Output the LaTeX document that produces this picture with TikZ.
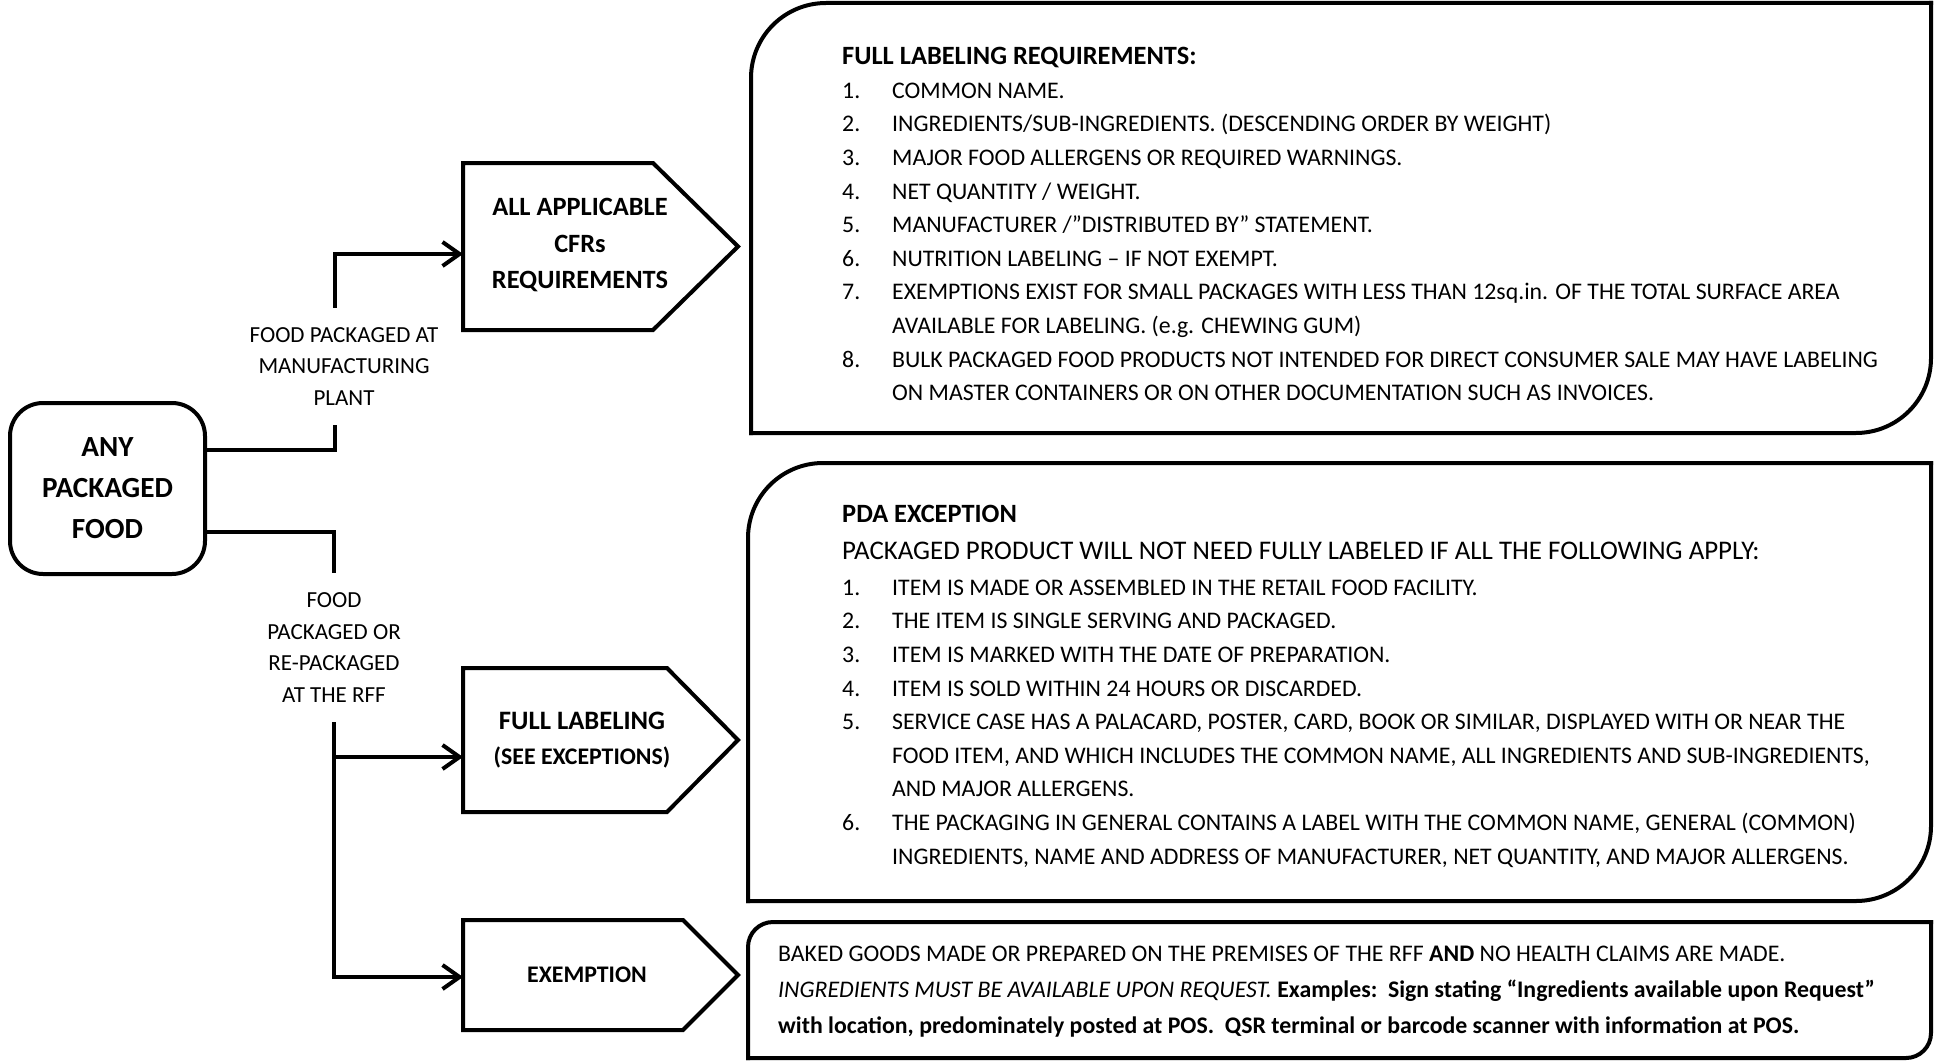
\documentclass[tikz,border=0pt]{standalone}
\usepackage{fontspec}
\setmainfont{Carlito}
\usetikzlibrary{arrows.meta,calc,positioning}

\tikzset{
    conn/.style = {line width=4pt},
    flow/.style = {conn, -{Straight Barb[length=17pt,width=24pt]}},
    outline/.style = {line width=4pt, line cap=rect},
    frame/.style = {draw=none, inner sep=0pt, outer sep=0pt},
    boxtext/.style = {font=\fontsize{26.4}{36.5}\selectfont\bfseries, align=center},
    sidelabel/.style = {font=\fontsize{23}{31.5}\selectfont, align=center, inner sep=0pt},
    listtext/.style = {font=\fontsize{23.8}{33.6}\selectfont, align=left, inner sep=0pt, anchor=north west}}

\begin{document}
\begin{tikzpicture}[x=1pt, y=-1pt]
\useasboundingbox (0,0) rectangle (1934,1062);

% start and branch labels
\node[draw, line width=4pt, rounded corners=33pt, minimum width=195pt, minimum height=171pt,
      font=\fontsize{29.2}{41}\selectfont\bfseries, align=center] (anyfood) at (107.5,488.5) {ANY\\PACKAGED\\FOOD};
\node[sidelabel, minimum height=117pt] (mfg) at (344,366.5) {FOOD PACKAGED AT\\MANUFACTURING\\PLANT};
\node[sidelabel, minimum height=149pt] (rff) at (334,647.5) {FOOD\\PACKAGED OR\\RE-PACKAGED\\AT THE RFF};

% arrow shaped boxes
\node[frame, minimum width=190pt, minimum height=167pt] (cfr) at (558,246.5) {};
\draw[conn] (cfr.north west) -- (cfr.north east) -- ($(cfr.east)+(85,0)$) -- (cfr.south east) -- (cfr.south west) -- cycle;
\node[boxtext] (cfrtext) at ($(cfr.center)+(22,-1.5)$) {ALL APPLICABLE\\CFRs\\REQUIREMENTS};

\node[frame, minimum width=204pt, minimum height=144pt] (fulllab) at (565,740) {};
\draw[conn] (fulllab.north west) -- (fulllab.north east) -- ($(fulllab.east)+(71,0)$) -- (fulllab.south east) -- (fulllab.south west) -- cycle;
\node[boxtext, font=\fontsize{23.8}{35}\selectfont\bfseries] (fulltext) at ($(fulllab.center)+(17,0)$) {{\fontsize{26.6}{35}\selectfont FULL LABELING}\\(SEE EXCEPTIONS)};

\node[frame, minimum width=220pt, minimum height=110pt] (exm) at (573,975) {};
\draw[conn] (exm.north west) -- (exm.north east) -- ($(exm.east)+(55,0)$) -- (exm.south east) -- (exm.south west) -- cycle;
\node[boxtext, font=\fontsize{23.8}{35}\selectfont\bfseries] (exmtext) at ($(exm.center)+(14,0)$) {EXEMPTION};

% connectors
\draw[conn] ($(anyfood.east)+(0,-38.5)$) -| ($(mfg.south)+(-9,0)$);
\draw[flow] ($(mfg.north)+(-9,0)$) |- ($(cfr.west)+(0,7.5)$);
\draw[conn] ($(anyfood.east)+(0,43.5)$) -| (rff.north);
\draw[flow] (rff.south) |- ($(fulllab.west)+(0,17)$);
\draw[flow] (rff.south) |- ($(exm.west)+(0,2)$);

% text panels
\node[frame, minimum width=1180pt, minimum height=430pt] (reqbox) at (1341,218) {};
\draw[outline, rounded corners=75pt] (reqbox.north east) -- (reqbox.north west) -- (reqbox.south west);
\draw[outline, rounded corners=75pt] (reqbox.south west) -- (reqbox.south east) -- (reqbox.north east);
\node[listtext] (reqlist) at ($(reqbox.north west)+(91,43.65)$) {%
    {\fontsize{26.4}{33.6}\selectfont\bfseries FULL LABELING REQUIREMENTS:}\\[0.55pt]
    \makebox[50pt][l]{1.}COMMON NAME.\\
    \makebox[50pt][l]{2.}INGREDIENTS/SUB-INGREDIENTS. (DESCENDING ORDER BY WEIGHT)\\
    \makebox[50pt][l]{3.}MAJOR FOOD ALLERGENS OR REQUIRED WARNINGS.\\
    \makebox[50pt][l]{4.}NET QUANTITY / WEIGHT.\\
    \makebox[50pt][l]{5.}MANUFACTURER /”DISTRIBUTED BY” STATEMENT.\\
    \makebox[50pt][l]{6.}NUTRITION LABELING – IF NOT EXEMPT.\\
    \makebox[50pt][l]{7.}EXEMPTIONS EXIST FOR SMALL PACKAGES WITH LESS THAN 12sq.in. OF THE TOTAL SURFACE AREA\\
    \hspace*{50pt}AVAILABLE FOR LABELING. (e.g. CHEWING GUM)\\
    \makebox[50pt][l]{8.}BULK PACKAGED FOOD PRODUCTS NOT INTENDED FOR DIRECT CONSUMER SALE MAY HAVE LABELING\\
    \hspace*{50pt}ON MASTER CONTAINERS OR ON OTHER DOCUMENTATION SUCH AS INVOICES.};

\node[frame, minimum width=1183pt, minimum height=438pt] (pdabox) at (1339.5,682) {};
\draw[outline, rounded corners=75pt] (pdabox.north east) -- (pdabox.north west) -- (pdabox.south west);
\draw[outline, rounded corners=75pt] (pdabox.south west) -- (pdabox.south east) -- (pdabox.north east);
\node[listtext] (pdalist) at ($(pdabox.north west)+(94,41.65)$) {%
    {\fontsize{26.4}{33.6}\selectfont\bfseries PDA EXCEPTION}\\[3.4pt]
    {\fontsize{26.9}{33.6}\selectfont PACKAGED PRODUCT WILL NOT NEED FULLY LABELED IF ALL THE FOLLOWING APPLY:}\\[2.55pt]
    \makebox[50pt][l]{1.}ITEM IS MADE OR ASSEMBLED IN THE RETAIL FOOD FACILITY.\\
    \makebox[50pt][l]{2.}THE ITEM IS SINGLE SERVING AND PACKAGED.\\
    \makebox[50pt][l]{3.}ITEM IS MARKED WITH THE DATE OF PREPARATION.\\
    \makebox[50pt][l]{4.}ITEM IS SOLD WITHIN 24 HOURS OR DISCARDED.\\
    \makebox[50pt][l]{5.}SERVICE CASE HAS A PALACARD, POSTER, CARD, BOOK OR SIMILAR, DISPLAYED WITH OR NEAR THE\\
    \hspace*{50pt}FOOD ITEM, AND WHICH INCLUDES THE COMMON NAME, ALL INGREDIENTS AND SUB-INGREDIENTS,\\
    \hspace*{50pt}AND MAJOR ALLERGENS.\\
    \makebox[50pt][l]{6.}THE PACKAGING IN GENERAL CONTAINS A LABEL WITH THE COMMON NAME, GENERAL (COMMON)\\
    \hspace*{50pt}INGREDIENTS, NAME AND ADDRESS OF MANUFACTURER, NET QUANTITY, AND MAJOR ALLERGENS.};

\node[frame, minimum width=1183pt, minimum height=136pt] (bakedbox) at (1339.5,990) {};
\draw[outline, rounded corners=25pt] (bakedbox.north east) -- (bakedbox.north west) -- (bakedbox.south west);
\draw[outline, rounded corners=25pt] (bakedbox.south west) -- (bakedbox.south east) -- (bakedbox.north east);
\node[listtext, font=\fontsize{23.8}{36}\selectfont] (bakedtext) at ($(bakedbox.north west)+(30,23.5)$) {%
    BAKED GOODS MADE OR PREPARED ON THE PREMISES OF THE RFF \textbf{AND} NO HEALTH CLAIMS ARE MADE.\\
    \textit{INGREDIENTS MUST BE AVAILABLE UPON REQUEST.} \textbf{Examples:\ \ Sign stating “Ingredients available upon Request”}\\
    \textbf{with location, predominately posted at POS.\ \ QSR terminal or barcode scanner with information at POS.}};
\end{tikzpicture}
\end{document}
